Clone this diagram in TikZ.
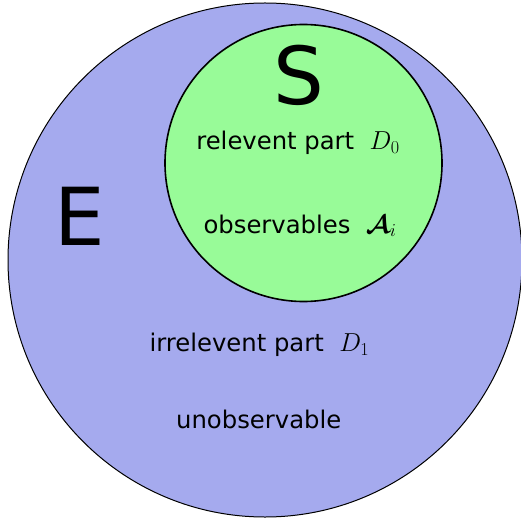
\documentclass[tikz,border=0pt]{standalone}
\usepackage{fix-cm}
\usepackage{amsmath,bm}
\usepackage[no-math]{fontspec}
\setmainfont{DejaVu Sans}
\definecolor{outerblue}{RGB}{165,170,238}
\definecolor{innergreen}{RGB}{152,251,152}
\newcommand{\bigmath}[1]{{\fontsize{26}{28}\selectfont$#1$}}
\begin{document}
\begin{tikzpicture}[x=1pt,y=-1pt,
  big/.style={font=\fontsize{80}{90}\selectfont, inner sep=0pt, anchor=base},
  lbl/.style={font=\fontsize{24.3}{28}\selectfont, inner sep=0pt, anchor=base}]
\useasboundingbox (0,0) rectangle (520,521);
\draw[fill=outerblue, line width=1pt] (265,260) circle[radius=257pt];
\draw[fill=innergreen, line width=1.6pt] (303.5,163) circle[radius=138.5pt];
\node[big] (S) at (299,105) {S};
\node[big] (E) at (79.5,245) {E};
\node[lbl] (rel) at (298,150) {relevent part~~\bigmath{D_0}};
\node[lbl] (obs) at (300,233) {observables~~\bigmath{\bm{\mathcal{A}}_i}};
\node[lbl] (irr) at (259.5,351.7) {irrelevent part~~\bigmath{D_1}};
\node[lbl] (unobs) at (258.7,428) {unobservable};
\end{tikzpicture}
\end{document}
